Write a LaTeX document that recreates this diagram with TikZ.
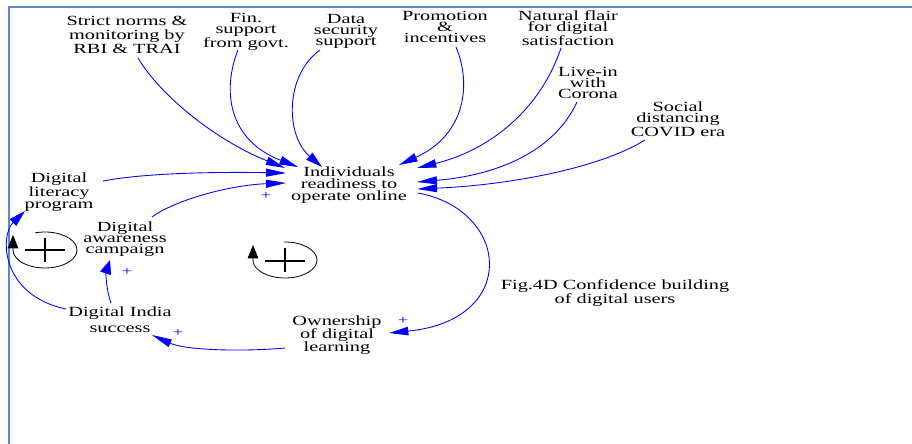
\documentclass[tikz,border=0pt]{standalone}
\usepackage{fontspec}
\setmainfont{Liberation Serif}[FakeStretch=1.45]
\usetikzlibrary{arrows.meta}
\definecolor{framec}{HTML}{5B8CC8}
\definecolor{linkc}{HTML}{0000FF}

\begin{document}
\begin{tikzpicture}[x=0.75pt,y=-0.75pt,
  var/.style={align=center, inner sep=0pt, font=\fontsize{10.5}{#1}\selectfont},
  link/.style 2 args={draw=linkc, line width=0.65pt, -{Triangle[length=#1,width=#2]}},
  pol/.style={text=linkc, inner sep=0pt, font=\fontsize{9.5}{9.5}\selectfont},
  loopc/.style={draw=black, line width=0.6pt, -{Triangle[length=10pt,width=8pt]}},
  loopsign/.style={draw=black, line width=1.4pt}]
\useasboundingbox (0,0) rectangle (912,443);

% page frame
\draw[framec, line width=1.5pt] (8.5,444) -- (8.5,6.5) -- (913,6.5);

% variables
\node[var=10.5] (strict) at (127,35) {Strict norms \&\\monitoring by\\RBI \& TRAI};
\node[var=8.2]  (fin)    at (246,32) {Fin.\\support\\from govt.};
\node[var=8.2]  (data)   at (346,31) {Data\\security\\support};
\node[var=8.2]  (promo)  at (445,27) {Promotion\\\&\\incentives};
\node[var=8.2]  (flair)  at (568,28) {Natural flair\\for digital\\satisfaction};
\node[var=8.2]  (livein) at (588,83) {Live-in\\with\\Corona};
\node[var=8.8]  (social) at (678,119) {Social\\distancing\\COVID era};
\node[var=9]    (indiv)  at (349,185) {Individuals\\readiness to\\operate online};
\node[var=8.5]  (liter)  at (59,192) {Digital\\literacy\\program};
\node[var=8.2]  (aware)  at (125,239) {Digital\\awareness\\campaign};
\node[var=12]   (india)  at (120,320) {Digital India\\success};
\node[var=10]   (owner)  at (337,335) {Ownership\\of digital\\learning};
\node[var=10.5] (fig)    at (615,293) {Fig.4D Confidence building\\of digital users};

% causal links into individuals' readiness
\draw[link={14.5pt}{6.2pt}] ([shift={(11,23)}]strict.center) .. controls (160,95) and (215,140) .. ([shift={(-64,-17)}]indiv.center);
\draw[link={14pt}{6.5pt}] ([shift={(-8,18)}]fin.center) .. controls (222,90) and (228,140) .. ([shift={(-51,-18)}]indiv.center);
\draw[link={12.5pt}{7pt}] ([shift={(-26,19)}]data.center) .. controls (285,75) and (285,135) .. ([shift={(-27,-18)}]indiv.center);
\draw[link={14pt}{6.5pt}] ([shift={(11,20)}]promo.center) .. controls (472,85) and (465,135) .. ([shift={(50,-20)}]indiv.center);
\draw[link={14.5pt}{6.3pt}] ([shift={(-7,20)}]flair.center) .. controls (540,110) and (490,150) .. ([shift={(68,-17)}]indiv.center);
\draw[link={15pt}{6pt}] ([shift={(-11,19)}]livein.center) .. controls (555,150) and (500,175) .. ([shift={(68,-3)}]indiv.center);
\draw[link={15pt}{6pt}] ([shift={(-33,21)}]social.center) .. controls (600,168) and (510,185) .. ([shift={(68,4)}]indiv.center);
\draw[link={15pt}{6pt}] ([shift={(44,-11)}]liter.center) .. controls (150,172) and (230,172) .. ([shift={(-63,-12)}]indiv.center);
\draw[link={15pt}{6pt}] ([shift={(27,-22)}]aware.center) .. controls (175,200) and (230,185) .. ([shift={(-63,-2)}]indiv.center);

% reinforcing chain
\draw[link={14.5pt}{6.3pt}] ([shift={(69,8)}]indiv.center) .. controls (510,210) and (520,320) .. ([shift={(52,-2)}]owner.center);
\draw[link={15pt}{6pt}] ([shift={(-52,13)}]owner.center) .. controls (240,352) and (185,350) .. ([shift={(32,15)}]india.center);
\draw[link={10.5pt}{8.5pt}] ([shift={(-9,-17)}]india.center) .. controls (106,290) and (106,272) .. ([shift={(-15,21)}]aware.center);
\draw[link={12.5pt}{7pt}] ([shift={(-54,-11)}]india.center) .. controls (0,295) and (0,235) .. ([shift={(-34,19)}]liter.center);

% polarity signs
\node[pol] (p1) at (266,196) {+};
\node[pol] (p2) at (403,321) {+};
\node[pol] (p3) at (178,333) {+};
\node[pol] (p4) at (127,272) {+};

% loop markers: clockwise arcs ending in an upward arrow on the left
\draw[loopc] (45,250) ++(-108:32 and 18) arc[start angle=-108, end angle=180, x radius=32, y radius=18] -- ++(0,-15);
\draw[loopsign] (25,250) -- (65,250) (45,238) -- (45,262);
\draw[loopc] (285,260) ++(-92:32 and 18) arc[start angle=-92, end angle=180, x radius=32, y radius=18] -- ++(0,-15);
\draw[loopsign] (265,261) -- (305,261) (285,248) -- (285,272);
\end{tikzpicture}
\end{document}
